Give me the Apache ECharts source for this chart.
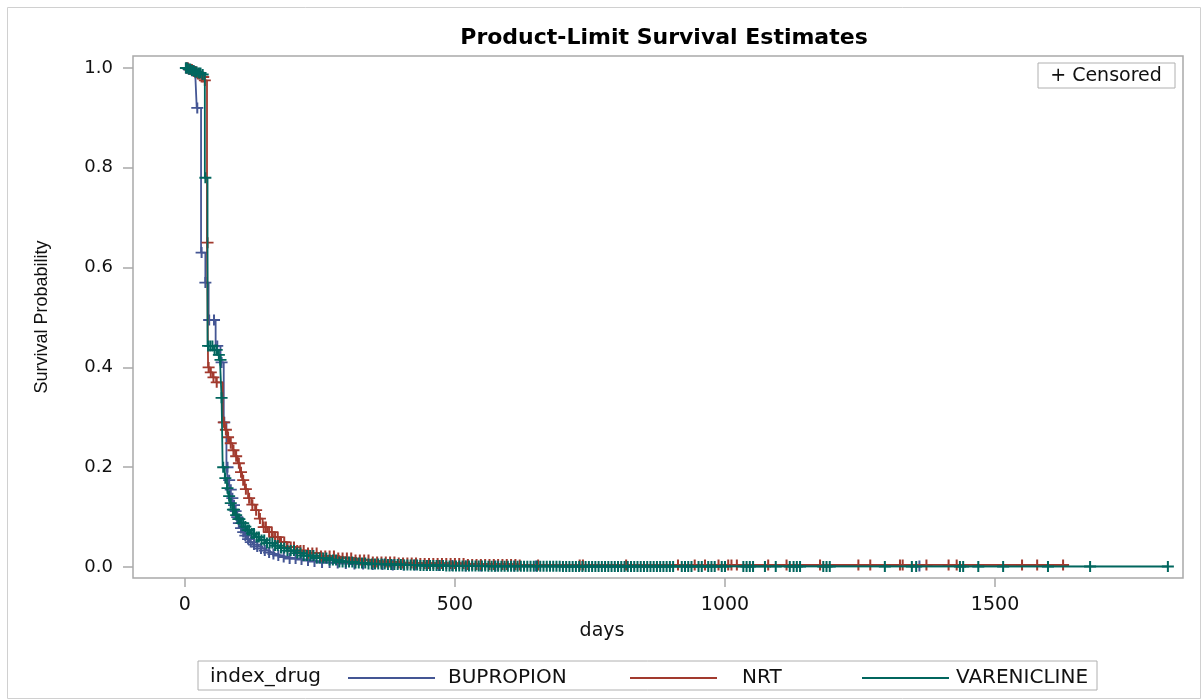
<!DOCTYPE html>
<html>
<head>
<meta charset="utf-8">
<script src="https://cdn.jsdelivr.net/npm/echarts@6/dist/echarts.min.js"></script>
<style>
html,body{margin:0;padding:0;background:#fff;}
#chart{width:1203px;height:700px;}
</style>
</head>
<body>
<div id="chart"></div>
<script>
// ---- Data ----
const seriesNames = ['BUPROPION', 'NRT', 'VARENICLINE'];
const seriesColors = ['#445694', '#A23A2E', '#01665E'];
const xTicks = [0, 500, 1000, 1500];
const yTicks = [0, 0.2, 0.4, 0.6, 0.8, 1.0];

// BUPROPION: event days and survival after each event
const bupDays = [0, 8, 14, 19, 22, 30, 38, 44, 57, 66, 72, 77, 80, 83, 86, 89, 92, 95, 98, 102, 106, 110, 115, 120, 126, 132, 139, 146, 154, 162, 170, 180, 192, 207, 222, 238, 252, 270, 290, 311, 340, 380, 440, 520];
const bupSurv = [1.0, 0.997, 0.994, 0.99, 0.92, 0.63, 0.57, 0.495, 0.443, 0.41, 0.29, 0.20, 0.174, 0.155, 0.138, 0.124, 0.112, 0.1, 0.088, 0.078, 0.07, 0.063, 0.056, 0.05, 0.045, 0.041, 0.037, 0.033, 0.029, 0.026, 0.023, 0.02, 0.017, 0.015, 0.013, 0.011, 0.009, 0.008, 0.007, 0.006, 0.005, 0.004, 0.003, 0.002];
const bupCensor = [2, 5, 8, 11, 14, 17, 20, 23, 31, 38, 45, 54, 60, 68, 73, 79, 82, 85, 88, 91, 94, 97, 100, 104, 108, 112, 117, 122, 128, 134, 141, 148, 156, 164, 173, 183, 194, 205, 216, 228, 240, 254, 268, 283, 298, 314, 330, 348, 366, 385, 405, 426, 448, 470, 495, 520, 548, 575, 610, 650, 1360];

// NRT
const nrtDays = [0, 8, 15, 22, 30, 36, 41, 43, 47, 52, 58, 70, 74, 79, 83, 88, 93, 98, 102, 106, 111, 117, 123, 130, 137, 144, 153, 163, 175, 189, 206, 226, 250, 281, 310, 343, 390, 435, 520, 620];
const nrtSurv = [1.0, 0.997, 0.993, 0.988, 0.982, 0.975, 0.65, 0.40, 0.39, 0.38, 0.37, 0.29, 0.275, 0.26, 0.248, 0.234, 0.222, 0.208, 0.19, 0.174, 0.156, 0.138, 0.125, 0.114, 0.097, 0.08, 0.07, 0.06, 0.05, 0.04, 0.033, 0.028, 0.022, 0.018, 0.014, 0.01, 0.008, 0.007, 0.005, 0.004];
const nrtCensor = [3, 6, 10, 13, 17, 20, 24, 27, 31, 34, 37, 42, 44, 48, 53, 59, 72, 76, 80, 85, 90, 95, 100, 104, 108, 113, 119, 125, 132, 139, 146, 150, 156, 161, 167, 172, 178, 184, 190, 196, 202, 208, 214, 220, 228, 236, 244, 252, 260, 268, 276, 284, 292, 300, 308, 316, 324, 332, 340, 348, 356, 364, 372, 380, 388, 396, 404, 412, 420, 428, 436, 444, 452, 460, 468, 476, 484, 492, 500, 508, 516, 524, 532, 540, 548, 556, 564, 572, 580, 588, 596, 604, 612, 620, 654, 731, 737, 817, 913, 944, 963, 988, 1006, 1012, 1022, 1080, 1114, 1176, 1247, 1269, 1324, 1329, 1373, 1414, 1429, 1550, 1578, 1626];

// VARENICLINE
const varDays = [0, 6, 12, 18, 25, 32, 37, 42, 52, 60, 65, 68, 70, 74, 78, 81, 84, 88, 93, 98, 103, 109, 115, 122, 130, 139, 150, 163, 176, 189, 204, 219, 240, 263, 286, 311, 340, 374, 405, 435, 480, 560, 700];
const varSurv = [1.0, 0.998, 0.995, 0.992, 0.99, 0.987, 0.78, 0.443, 0.435, 0.425, 0.415, 0.339, 0.2, 0.178, 0.158, 0.142, 0.128, 0.115, 0.104, 0.096, 0.088, 0.081, 0.074, 0.067, 0.06, 0.054, 0.048, 0.043, 0.038, 0.033, 0.028, 0.023, 0.018, 0.014, 0.01, 0.008, 0.006, 0.005, 0.004, 0.003, 0.002, 0.0015, 0.001];
const varCensor = [2, 4, 7, 10, 13, 16, 19, 22, 26, 29, 33, 38, 43, 47, 51, 55, 59, 63, 66, 68, 71, 75, 79, 82, 85, 89, 91, 95, 99, 101, 105, 108, 112, 116, 119, 124, 128, 133, 137, 142, 147, 152, 157, 162, 167, 172, 178, 184, 190, 196, 202, 208, 214, 220, 226, 232, 238, 244, 250, 256, 262, 268, 274, 280, 286, 292, 298, 304, 310, 316, 322, 328, 334, 340, 346, 352, 358, 364, 370, 376, 382, 388, 394, 400, 406, 412, 418, 424, 430, 436, 442, 448, 454, 460, 466, 472, 478, 484, 490, 496, 502, 508, 514, 520, 526, 532, 538, 544, 550, 556, 562, 568, 574, 580, 586, 592, 598, 604, 610, 616, 622, 628, 634, 640, 646, 652, 658, 664, 670, 676, 682, 688, 694, 700, 706, 712, 718, 724, 730, 736, 742, 748, 754, 760, 766, 772, 778, 784, 790, 796, 802, 808, 814, 820, 826, 832, 838, 844, 850, 856, 862, 868, 874, 880, 886, 892, 898, 904, 920, 926, 932, 938, 951, 957, 969, 975, 981, 994, 1000, 1034, 1040, 1046, 1052, 1074, 1094, 1120, 1127, 1133, 1139, 1182, 1188, 1194, 1296, 1346, 1354, 1435, 1441, 1469, 1515, 1598, 1676, 1820];

// ---- Build series ----
function stepAt(days, surv, t) {
  let v = surv[0];
  for (let i = 0; i < days.length; i++) { if (days[i] <= t) v = surv[i]; else break; }
  return v;
}
function curve(days, surv, censor) {
  const pts = [];
  for (let i = 0; i < days.length && i < surv.length; i++) pts.push([days[i], surv[i]]);
  const last = censor[censor.length - 1];
  pts.push([last, stepAt(days, surv, last)]);
  return pts;
}
function marks(days, surv, censor) {
  return censor.map(t => [t, stepAt(days, surv, t)]);
}
const groups = [[bupDays, bupSurv, bupCensor], [nrtDays, nrtSurv, nrtCensor], [varDays, varSurv, varCensor]];
const plusPath = 'path://M5,0h2v5h5v2h-5v5h-2v-5h-5v-2h5z';
const series = [];
groups.forEach((g, i) => {
  series.push({
    name: seriesNames[i], type: 'line', step: 'end', showSymbol: false, symbol: 'none',
    data: curve(g[0], g[1], g[2]), lineStyle: { color: seriesColors[i], width: 1.8 },
    itemStyle: { color: seriesColors[i] }, silent: true, animation: false, z: 2 + i * 2
  });
  series.push({
    name: seriesNames[i] + ' censored', type: 'scatter', symbol: plusPath, symbolSize: [12, 11],
    data: marks(g[0], g[1], g[2]), itemStyle: { color: seriesColors[i], opacity: 1 },
    silent: true, animation: false, z: 3 + i * 2
  });
});

const font = 'DejaVu Sans';
const legendLeft = [343, 625, 857];
const legendPad = [13, 25, 7];
const legends = seriesNames.map((n, i) => ({
  data: [n], left: legendLeft[i], top: 663, icon: 'rect', itemWidth: 87, itemHeight: 2,
  textStyle: { fontFamily: font, fontSize: 20, color: '#111', padding: [0, 0, 0, legendPad[i] - 5] },
  selectedMode: false
}));

const chart = echarts.init(document.getElementById('chart'), null, { renderer: 'canvas' });
chart.setOption({
  animation: false,
  backgroundColor: '#fff',
  title: {
    text: 'Product-Limit Survival Estimates', left: 659, textAlign: 'center', top: 22,
    textStyle: { fontFamily: font, fontWeight: 'bold', fontSize: 22, color: '#000' }
  },
  legend: legends,
  grid: { left: 133, right: 20, top: 56, bottom: 122, show: true, borderColor: '#a9a9a9', borderWidth: 1.5, backgroundColor: 'transparent' },
  xAxis: {
    type: 'value', min: -96, max: 1848,
    name: 'days', nameLocation: 'middle', nameGap: 44,
    nameTextStyle: { fontFamily: font, fontSize: 19, color: '#111', padding: [0, 112, 0, 0] },
    axisLine: { show: false, onZero: false },
    axisTick: { show: true, inside: false, length: 9, customValues: xTicks, lineStyle: { color: '#a9a9a9', width: 1.5 } },
    axisLabel: { customValues: xTicks, fontFamily: font, fontSize: 19, color: '#111', margin: 18, formatter: v => String(v) },
    splitLine: { show: false }
  },
  yAxis: {
    type: 'value', min: -0.022, max: 1.024,
    name: 'Survival Probability', nameLocation: 'middle', nameGap: 82, nameRotate: 90,
    nameTextStyle: { fontFamily: 'Liberation Sans', fontSize: 18, color: '#111' },
    axisLine: { show: false, onZero: false },
    axisTick: { show: true, inside: false, length: 10, customValues: yTicks, lineStyle: { color: '#a9a9a9', width: 1.5 } },
    axisLabel: { customValues: yTicks, fontFamily: font, fontSize: 18, color: '#111', margin: 20, formatter: v => v.toFixed(1) },
    splitLine: { show: false }
  },
  graphic: [
    { type: 'rect', shape: { x: 7.5, y: 7.5, width: 1193, height: 691 }, style: { fill: 'none', stroke: '#d0d0d0', lineWidth: 1 }, silent: true },
    { type: 'rect', shape: { x: 1038, y: 63, width: 137, height: 25 }, style: { fill: '#fff', stroke: '#b0b0b0', lineWidth: 1 }, z: 100, silent: true },
    { type: 'text', x: 1106, y: 76, style: { text: '+ Censored', fontFamily: font, fontSize: 19, fill: '#111', align: 'center', verticalAlign: 'middle' }, z: 101, silent: true },
    { type: 'rect', shape: { x: 198, y: 661, width: 899, height: 29 }, style: { fill: 'none', stroke: '#b0b0b0', lineWidth: 1 }, silent: true },
    { type: 'text', x: 210, y: 677, style: { text: 'index_drug', fontFamily: font, fontSize: 20, fill: '#111', verticalAlign: 'middle' }, silent: true }
  ],
  series: series
});
</script>
</body>
</html>
